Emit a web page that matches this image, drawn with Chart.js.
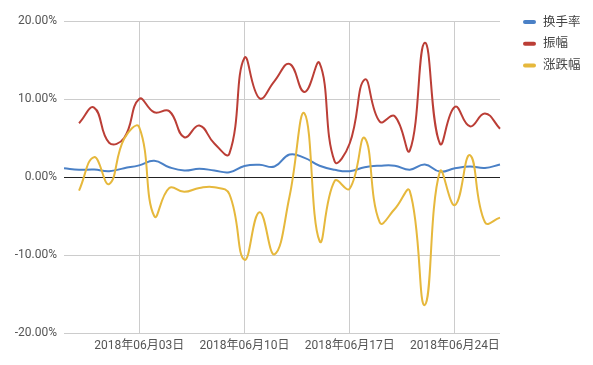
<!DOCTYPE html>
<html>
<head>
<meta charset="utf-8">
<script src="https://cdn.jsdelivr.net/npm/chart.js@4/dist/chart.umd.min.js"></script>
<style>
  html, body { margin: 0; padding: 0; background: #fff; }
  #wrap { width: 593px; height: 365px; position: relative; }
</style>
</head>
<body>
<div id="wrap"><canvas id="c" width="593" height="365"></canvas></div>
<script>
const dates = [
  '2018年05月29日','2018年05月30日','2018年05月31日','2018年06月01日','2018年06月02日',
  '2018年06月03日','2018年06月04日','2018年06月05日','2018年06月06日','2018年06月07日',
  '2018年06月08日','2018年06月09日','2018年06月10日','2018年06月11日','2018年06月12日',
  '2018年06月13日','2018年06月14日','2018年06月15日','2018年06月16日','2018年06月17日',
  '2018年06月18日','2018年06月19日','2018年06月20日','2018年06月21日','2018年06月22日',
  '2018年06月23日','2018年06月24日','2018年06月25日','2018年06月26日','2018年06月27日'
];
const xTickLabels = ['2018年06月03日','2018年06月10日','2018年06月17日','2018年06月24日'];
const yTicks = [-20, -10, 0, 10, 20];
const seriesNames = ['换手率', '振幅', '涨跌幅'];

const turnover  = [1.14, 0.93, 0.97, 0.75, 1.14, 1.5, 2.1, 1.26, 0.84, 1.06, 0.84, 0.62, 1.42, 1.58, 1.35, 2.88, 2.45, 1.45, 0.93, 0.75, 1.26, 1.45, 1.46, 0.95, 1.6, 0.7, 1.12, 1.35, 1.17, 1.6];
const amplitude = [null, 6.9, 8.9, 4.4, 5.0, 10.0, 8.3, 8.45, 5.1, 6.6, 4.3, 3.0, 15.25, 10.1, 12.3, 14.5, 10.9, 14.6, 2.0, 4.3, 12.5, 7.1, 7.8, 3.4, 17.2, 4.3, 9.0, 6.5, 8.15, 6.2];
const change    = [null, -1.74, 2.55, -0.9, 4.9, 6.4, -5.0, -1.4, -1.9, -1.4, -1.3, -2.2, -10.6, -4.5, -9.9, -2.5, 8.15, -8.2, -0.5, -1.5, 5.0, -5.8, -4.1, -1.8, -16.4, 0.7, -3.6, 2.8, -5.8, -5.2];

const colors = ['#4a80c6', '#bb3e36', '#e6b83c'];
const FONT = "Roboto, 'Noto Sans CJK SC', sans-serif";

const legendPlugin = {
  id: 'sideLegend',
  afterDraw(chart) {
    const ctx = chart.ctx;
    ctx.save();
    chart.data.datasets.forEach((ds, i) => {
      const y = 22 + i * 21.8;
      ctx.strokeStyle = ds.borderColor;
      ctx.lineWidth = 4;
      ctx.lineCap = 'round';
      ctx.beginPath();
      ctx.moveTo(525, y);
      ctx.lineTo(534, y);
      ctx.stroke();
      ctx.fillStyle = '#444';
      ctx.font = '12.5px ' + FONT;
      ctx.textBaseline = 'middle';
      ctx.textAlign = 'left';
      ctx.fillText(ds.label, 543, y + 0.5);
    });
    ctx.restore();
  }
};

new Chart(document.getElementById('c'), {
  type: 'line',
  data: {
    labels: dates,
    datasets: [
      { label: seriesNames[0], data: turnover, borderColor: colors[0], order: 3 },
      { label: seriesNames[1], data: amplitude, borderColor: colors[1], order: 2 },
      { label: seriesNames[2], data: change, borderColor: colors[2], order: 1 }
    ].map(d => Object.assign(d, {
      borderWidth: 2, pointRadius: 0, tension: 0.45, fill: false, backgroundColor: d.borderColor
    }))
  },
  options: {
    responsive: false,
    animation: false,
    events: [],
    layout: { padding: { top: 21, right: 93, bottom: 5.5, left: 0 } },
    plugins: { legend: { display: false }, tooltip: { enabled: false } },
    scales: {
      x: {
        type: 'category',
        offset: false,
        afterBuildTicks: s => {
          s.ticks = s.ticks.filter(t => xTickLabels.includes(dates[t.value]));
        },
        ticks: {
          autoSkip: false, maxRotation: 0, padding: 6,
          color: '#555', font: { family: FONT, size: 12 }
        },
        grid: { color: '#cccccc', lineWidth: 1, drawTicks: false },
        border: { display: false }
      },
      y: {
        min: -20, max: 20,
        afterBuildTicks: s => { s.ticks = yTicks.map(v => ({ value: v })); },
        afterFit: s => { s.width = 64; },
        ticks: {
          padding: 7, color: '#555', font: { family: FONT, size: 12 },
          callback: v => v.toFixed(2) + '%'
        },
        grid: {
          drawTicks: false,
          color: c => (c.tick && c.tick.value === 0) ? '#222' : '#cccccc',
          lineWidth: 1
        },
        border: { display: false }
      }
    }
  },
  plugins: [legendPlugin]
});
</script>
</body>
</html>
